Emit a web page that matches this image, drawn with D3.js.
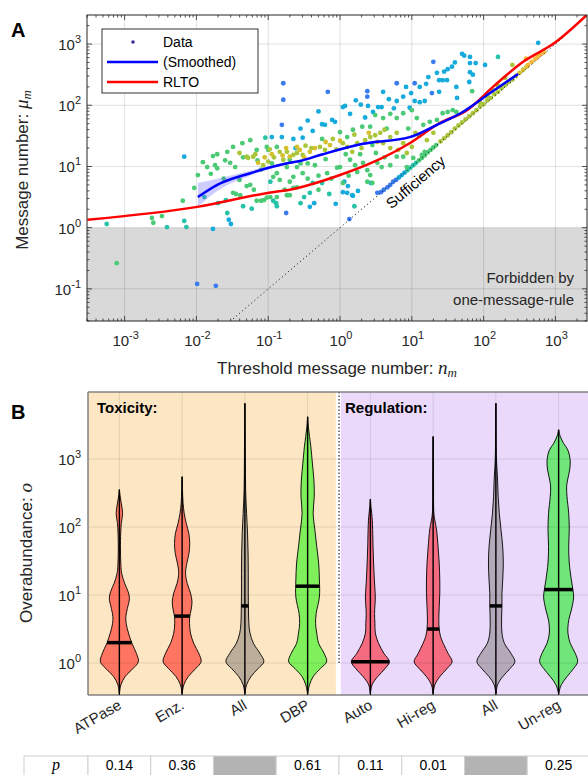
<!DOCTYPE html>
<style>body { margin: 0; } svg { display: block; }</style>
<svg width="588" height="775" font-family="'Liberation Sans', Arial, sans-serif" style="background-color: white"></svg>
<script src="https://d3js.org/d3.v7.min.js"></script>
<script>

var svg = d3.select("svg");

// ---------- panel A: points are [log10 n_m, log10 mu_m]
var bluePts = [[-1.99,-0.92],[-1.73,-0.95],[-0.79,2.36],[-0.79,2.09],[-0.81,1.68],[-0.75,0.24],[-0.17,2.22],
  [0.38,2.23],[0.38,2.14],[0.79,2.36],[1.30,2.71],[1.04,2.36],[1.28,2.20],[0.13,0.14],[0.52,0.57],[0.57,0.58],
  [0.61,0.62],[0.66,0.66],[0.70,0.70],[0.74,0.75],[0.78,0.78]];
var cyanPts = [[-2.17,1.16],[-1.77,-0.02],[-1.55,0.13],[-1.52,0.06],[-0.81,1.48],[-0.95,1.48],[-0.65,1.45],
  [-0.42,0.34],[-0.36,0.40],[-0.06,0.39],[0.06,0.75],[0.11,0.68],[0.17,0.53],[0.43,0.73],[0.10,0.57],[0.18,0.52],
  [0.04,0.58],[0.04,1.97],[0.07,1.99],[-0.11,1.76],[-0.21,1.68],[-0.25,1.69],[-0.07,1.73],[-0.38,1.58],[-0.52,1.47],
  [0.99,2.20],[1.11,2.30],[1.38,2.22],[1.04,2.07],[1.11,2.05],[1.18,2.07],[0.97,1.96],[0.88,2.14],[0.79,2.07],
  [0.68,2.10],[0.58,1.97],[0.53,1.97],[0.46,1.89],[0.39,1.99],[0.29,2.01],[0.14,1.86],[1.70,2.84],[1.73,2.81],
  [1.81,2.79],[1.81,2.69],[1.89,2.69],[2.02,2.66],[1.56,2.63],[1.50,2.59],[1.35,2.53],[1.23,2.46],[1.38,2.41],
  [1.43,2.41],[1.49,2.41],[1.81,2.54],[1.85,2.50],[1.80,2.38],[1.62,2.30],[1.63,2.12],[2.76,3.02],[0.82,0.82],
  [0.86,0.86],[0.90,0.90],[-0.55,1.62],[-0.45,1.75],[-0.30,1.90],[0.22,2.08],[0.60,2.22],[0.92,2.30],[1.20,2.35],
  [1.45,2.55],[1.60,2.70],[0.35,1.80],[0.75,1.95],[-0.62,1.30],[0.25,0.60]];
var tealPts = [[-3.25,0.06],[-2.41,0.01],[-2.17,0.11],[-2.14,0.01],[-1.89,0.50],[-1.57,0.24],[-1.59,0.45],
  [-1.23,0.31],[-0.93,0.44],[-0.89,0.40],[-0.88,0.35],[-0.97,0.75],[-0.50,0.50],[-0.25,0.73],[-1.04,1.47],
  [2.20,2.79],[-0.38,0.73],[-0.42,0.57],[0.94,0.94],[0.98,0.98],[1.02,1.02],[1.06,1.06],[-1.70,0.40],
  [-1.35,0.35],[-0.55,0.40],[-0.15,0.55],[0.20,0.35]];
var greenPts = [[-3.11,-0.58],[-2.62,0.16],[-2.60,0.08],[-2.48,0.19],[-2.19,0.44],[-2.03,0.65],[-1.45,0.55],
  [-1.16,0.44],[-1.10,0.44],[-1.06,0.45],[-0.97,0.50],[-0.77,0.62],[-0.74,0.53],[-1.91,1.07],[-1.77,1.17],
  [-1.71,1.20],[-1.57,1.24],[-1.49,1.32],[-1.36,1.38],[-1.25,1.43],[-1.98,0.86],[-1.85,0.99],[-1.74,1.02],
  [-1.71,0.97],[-1.53,1.06],[-1.46,0.99],[-1.16,1.27],[-1.02,1.32],[-1.00,1.27],[-0.88,1.32],[-0.74,0.99],
  [-0.88,0.89],[-0.93,0.83],[-0.84,0.78],[-0.70,0.75],[-0.65,0.83],[-1.49,0.57],[-1.39,0.53],[-1.02,0.49],
  [-0.88,0.50],[-0.70,0.53],[0.00,1.56],[0.18,1.60],[0.31,1.65],[0.42,1.65],[0.49,1.84],[0.60,1.79],[0.70,1.86],
  [0.79,1.79],[0.88,1.87],[1.00,1.92],[1.07,1.79],[1.16,1.68],[1.25,1.73],[1.35,1.76],[1.43,1.87],[1.50,1.89],
  [1.57,1.92],[1.62,1.89],[1.84,2.23],[-0.70,1.11],[-0.60,0.99],[-0.52,0.89],[-0.35,1.02],[-0.04,0.98],
  [0.00,0.99],[0.14,1.11],[0.21,1.02],[0.32,1.06],[0.24,0.91],[0.38,0.94],[0.42,0.86],[0.52,1.06],[0.58,0.99],
  [0.70,1.02],[0.79,1.16],[0.88,1.16],[1.02,1.14],[1.14,1.19],[1.18,1.24],[0.93,0.99],[0.38,0.75],[0.45,0.73],
  [0.04,0.73],[-0.18,0.89],[1.10,1.10],[1.14,1.14],[1.18,1.18],[1.22,1.23],[1.26,1.27],[1.30,1.31],[1.34,1.35],
  [-1.62,0.80],[-1.40,0.78],[-1.30,0.68],[-1.20,0.62],[-0.60,0.66],[-0.30,0.62],[-0.12,0.80],[0.12,0.85],
  [0.28,1.20],[0.50,1.22],[0.62,1.15],[-0.45,1.05],[-1.10,0.95],[-0.25,1.45],[0.10,1.48],[-1.80,0.88],
  [-1.60,1.10],[-1.35,1.15],[-1.15,1.10],[-0.95,1.05],[-0.55,1.05],[-0.45,0.80],[-0.20,1.12],[0.08,1.20],
  [0.45,1.35],[0.65,1.62],[0.95,1.62],[1.10,1.50],[-1.25,0.70],[-0.65,0.65],[-0.30,0.85]];
var olivePts = [[-1.30,1.16],[-1.28,1.14],[-1.21,1.16],[-1.07,1.02],[-0.84,1.24],[-0.74,1.24],[-0.65,1.19],
  [-0.79,1.11],[-0.52,1.19],[-0.28,1.32],[-0.21,1.27],[0.04,1.38],[0.10,1.32],[0.17,1.24],[0.24,1.38],[0.35,1.43],
  [0.42,1.48],[0.49,1.51],[0.56,1.55],[0.70,1.48],[0.79,1.55],[0.60,1.38],[0.70,1.30],[0.81,1.27],[0.88,1.38],
  [0.93,1.22],[1.00,1.32],[1.21,1.43],[2.40,2.66],[1.40,1.41],[1.45,1.46],[1.50,1.51],[1.55,1.56],[1.60,1.62],
  [1.65,1.67],[1.70,1.72],[1.75,1.77],[1.80,1.82],[1.85,1.87],[1.90,1.92],[1.95,1.98],[2.00,2.02],[2.05,2.08],
  [2.10,2.12],[2.15,2.18],[2.20,2.22],[2.25,2.28],[2.30,2.33],[2.35,2.38],[2.40,2.42],[1.95,2.05],[2.05,2.15],
  [2.12,2.25],[2.20,2.32],[2.30,2.45],[-1.00,1.08],[-0.92,1.15],[-0.40,1.30],[-0.05,1.28],[0.30,1.30],
  [-1.40,1.22],[-1.18,1.20],[-0.98,1.28],[-0.60,1.22],[-0.48,1.34],[-0.10,1.45],[0.20,1.52],[0.62,1.60],
  [1.05,1.55],[1.30,1.55]];
var yellowPts = [[-1.14,1.06],[-0.70,1.16],[-0.60,1.32],[-0.42,1.24],[-0.14,1.35],[0.52,1.40],[-0.56,1.27],
  [-0.35,1.30],[2.45,2.48],[2.50,2.53],[2.55,2.58],[2.60,2.63],[-0.95,1.20],[-0.80,1.18],[-0.20,1.40],
  [-1.05,1.15],[-0.75,1.30],[-0.50,1.15],[0.00,1.42],[0.40,1.55]];
var orangePts = [[2.59,2.76],[2.62,2.66],[2.67,2.71],[2.72,2.76],[2.76,2.80],[2.80,2.84],[2.84,2.87]];

var smoothed = [[-1.98,0.50],[-1.71,0.70],[-1.25,0.89],[-0.70,1.06],[-0.56,1.09],[-0.24,1.20],[0.32,1.37],
  [0.97,1.48],[1.35,1.68],[1.71,1.89],[2.09,2.20],[2.48,2.51]];
var smoothedLow  = [0.34,0.60,0.85,1.04,1.07,1.18,1.35,1.46,1.66,1.87,2.18,2.49];
var smoothedHigh = [0.73,0.80,0.93,1.08,1.11,1.22,1.39,1.50,1.70,1.91,2.22,2.53];
var rlto = [[-3.52,0.13],[-1.99,0.34],[-0.99,0.57],[-0.70,0.62],[0.00,0.86],[0.46,1.07],[0.97,1.38],
  [1.39,1.71],[1.77,1.92],[2.13,2.30],[2.55,2.71],[2.99,3.02],[3.44,3.48]];
var sufficiency = [[-1.53,-1.53],[3.10,3.10]];

// ---------- panel B
var categories = ["ATPase", "Enz.", "All", "DBP", "Auto", "Hi-reg", "All", "Un-reg"];
var medians = [0.30, 0.69, 0.84, 1.13, 0.02, 0.50, 0.84, 1.08];   // log10 o
var pValues = ["0.14", "0.36", "", "0.61", "0.11", "0.01", "", "0.25"];
// violin outlines: [log10 o, relative half width]
var atpase = [[-0.45,0],[-0.32,0.08],[-0.20,0.30],[-0.08,0.72],[0.02,1.0],[0.14,0.90],[0.29,0.66],[0.44,0.48],
  [0.58,0.36],[0.68,0.34],[0.80,0.42],[0.95,0.53],[1.05,0.46],[1.17,0.28],[1.32,0.12],[1.50,0.07],[1.80,0.06],
  [2.05,0.10],[2.20,0.17],[2.35,0.10],[2.47,0.03],[2.55,0]];
var enz = [[-0.45,0],[-0.32,0.09],[-0.20,0.32],[-0.08,0.72],[0.02,1.0],[0.14,0.88],[0.29,0.61],[0.44,0.44],
  [0.58,0.39],[0.68,0.40],[0.78,0.47],[0.90,0.52],[1.03,0.44],[1.17,0.27],[1.32,0.18],[1.47,0.25],[1.61,0.36],
  [1.76,0.40],[1.91,0.35],[2.05,0.22],[2.20,0.11],[2.35,0.05],[2.55,0.02],[2.74,0]];
var toxAll = [[-0.45,0],[-0.32,0.09],[-0.20,0.32],[-0.08,0.70],[0.02,1.0],[0.14,0.80],[0.29,0.45],[0.44,0.27],
  [0.58,0.21],[0.78,0.19],[1.03,0.18],[1.32,0.18],[1.61,0.17],[1.91,0.14],[2.20,0.09],[2.54,0.04],[2.94,0.025],
  [3.40,0.015],[3.82,0]];
var dbp = [[-0.45,0],[-0.32,0.10],[-0.20,0.29],[-0.08,0.67],[0.02,1.0],[0.14,0.87],[0.29,0.58],[0.44,0.48],
  [0.58,0.42],[0.73,0.45],[0.97,0.62],[1.22,0.62],[1.47,0.58],[1.71,0.48],[1.96,0.38],[2.20,0.29],[2.45,0.35],
  [2.69,0.33],[2.94,0.25],[3.18,0.17],[3.33,0.10],[3.47,0.04],[3.62,0]];
var auto = [[-0.45,0],[-0.32,0.09],[-0.20,0.38],[-0.08,0.78],[0.02,1.0],[0.14,0.72],[0.29,0.43],[0.44,0.26],
  [0.58,0.24],[0.73,0.22],[0.97,0.26],[1.22,0.21],[1.47,0.17],[1.71,0.14],[1.96,0.12],[2.10,0.10],[2.20,0.07],
  [2.30,0.03],[2.41,0]];
var hiReg = [[-0.45,0],[-0.32,0.09],[-0.20,0.35],[-0.08,0.74],[0.02,1.0],[0.14,0.79],[0.29,0.53],[0.39,0.39],
  [0.50,0.32],[0.63,0.30],[0.82,0.32],[1.02,0.35],[1.22,0.35],[1.47,0.32],[1.71,0.26],[1.96,0.18],[2.10,0.09],
  [2.20,0.04],[2.69,0.02],[3.33,0]];
var regAll = [[-0.45,0],[-0.32,0.09],[-0.20,0.36],[-0.08,0.75],[0.02,1.0],[0.14,0.80],[0.29,0.45],[0.44,0.32],
  [0.63,0.30],[0.84,0.32],[1.02,0.32],[1.22,0.36],[1.47,0.39],[1.71,0.36],[1.96,0.27],[2.20,0.18],[2.45,0.12],
  [2.69,0.09],[2.94,0.04],[3.18,0.02],[3.82,0]];
var unReg = [[-0.45,0],[-0.32,0.14],[-0.20,0.44],[-0.08,0.79],[0.02,1.0],[0.14,0.88],[0.29,0.61],[0.44,0.49],
  [0.63,0.53],[0.78,0.67],[0.97,0.79],[1.08,0.75],[1.22,0.67],[1.47,0.56],[1.71,0.53],[1.96,0.56],[2.20,0.53],
  [2.45,0.44],[2.59,0.42],[2.69,0.47],[2.84,0.58],[2.98,0.61],[3.13,0.49],[3.23,0.26],[3.33,0.09],[3.43,0]];
var profiles = [atpase, enz, toxAll, dbp, auto, hiReg, regAll, unReg];

var violinFill = ["#ff7561", "#ff7561", "#bdae9b", "#7ff05c", "#f56b80", "#f56b80", "#b4a9b9", "#70e67a"];
var groupFill = [[bluePts, "#3a7cf0"], [cyanPts, "#17abdc"], [tealPts, "#26c3a8"], [greenPts, "#4cca76"],
  [olivePts, "#a9c63a"], [yellowPts, "#d6bf2c"], [orangePts, "#f6b93a"]];

var p10 = function(v) { return Math.pow(10, v); };
var ink = "#262626";

// =================== panel A ===================
var x = d3.scaleLog().domain([p10(-3.524), p10(3.44)]).range([87, 587]),
    y = d3.scaleLog().domain([p10(-1.525), p10(3.475)]).range([321, 15]);
var L = 87, R = 587, T = 15, B = 321;

svg.append("clipPath").attr("id", "clipA").append("rect")
    .attr("x", L).attr("y", T).attr("width", R - L).attr("height", B - T);
var gA = svg.append("g").attr("clip-path", "url(#clipA)");

gA.append("rect").attr("x", L).attr("y", y(1)).attr("width", R - L).attr("height", B - y(1))
    .attr("fill", "#d9d9d9");

var xDec = d3.range(-3, 4), yDec = d3.range(-1, 4);
gA.selectAll(".gx").data(xDec).enter().append("line")
    .attr("x1", function(d) { return x(p10(d)); }).attr("x2", function(d) { return x(p10(d)); })
    .attr("y1", T).attr("y2", B).attr("stroke", "#000").attr("stroke-opacity", 0.12);
gA.selectAll(".gy").data(yDec).enter().append("line")
    .attr("y1", function(d) { return y(p10(d)); }).attr("y2", function(d) { return y(p10(d)); })
    .attr("x1", L).attr("x2", R).attr("stroke", "#000").attr("stroke-opacity", 0.12);

groupFill.forEach(function(g) {
  gA.append("g").selectAll("circle").data(g[0]).enter().append("circle")
      .attr("cx", function(d) { return x(p10(d[0])); })
      .attr("cy", function(d) { return y(p10(d[1])); })
      .attr("r", 2.4).attr("fill", g[1]);
});

var band = d3.area().curve(d3.curveMonotoneX)
    .x(function(d) { return x(p10(d[0])); })
    .y0(function(d, i) { return y(p10(smoothedLow[i])); })
    .y1(function(d, i) { return y(p10(smoothedHigh[i])); });
gA.append("path").datum(smoothed).attr("d", band).attr("fill", "rgb(90,90,255)").attr("fill-opacity", 0.3);

var line = d3.line().curve(d3.curveMonotoneX)
    .x(function(d) { return x(p10(d[0])); }).y(function(d) { return y(p10(d[1])); });
gA.append("path").datum(sufficiency).attr("d", line).attr("stroke", "#000").attr("stroke-width", 1)
    .attr("stroke-dasharray", "1,3").attr("fill", "none");
gA.append("path").datum(rlto).attr("d", line).attr("stroke", "#ff0000").attr("stroke-width", 2.5).attr("fill", "none");
gA.append("path").datum(smoothed).attr("d", line).attr("stroke", "#0000ff").attr("stroke-width", 2.5).attr("fill", "none");

// frame and ticks
svg.append("rect").attr("x", L).attr("y", T).attr("width", R - L).attr("height", B - T)
    .attr("fill", "none").attr("stroke", ink).attr("stroke-width", 1);
function minors(lo, hi) {
  var out = [];
  for (var e = Math.floor(lo); e <= hi; e++) for (var k = 2; k < 10; k++) {
    var v = Math.log10(k) + e;
    if (v > lo && v < hi) out.push(v);
  }
  return out;
}
var tA = svg.append("g").attr("stroke", ink).attr("stroke-width", 0.8);
[[xDec, 5], [minors(-3.524, 3.44), 2.5]].forEach(function(s) {
  s[0].forEach(function(v) {
    var px = x(p10(v));
    tA.append("line").attr("x1", px).attr("x2", px).attr("y1", B).attr("y2", B - s[1]);
    tA.append("line").attr("x1", px).attr("x2", px).attr("y1", T).attr("y2", T + s[1]);
  });
});
[[yDec, 5], [minors(-1.525, 3.475), 2.5]].forEach(function(s) {
  s[0].forEach(function(v) {
    var py = y(p10(v));
    tA.append("line").attr("y1", py).attr("y2", py).attr("x1", L).attr("x2", L + s[1]);
    tA.append("line").attr("y1", py).attr("y2", py).attr("x1", R).attr("x2", R - s[1]);
  });
});

function powLabel(g, e) {
  g.append("tspan").text("10");
  g.append("tspan").attr("dy", -7).attr("font-size", 11).text(e);
}
xDec.forEach(function(d) {
  svg.append("text").attr("x", x(p10(d)) + 1).attr("y", 346).attr("text-anchor", "middle")
      .attr("font-size", 15).attr("fill", ink).call(powLabel, d);
});
yDec.forEach(function(d) {
  svg.append("text").attr("x", 81).attr("y", y(p10(d)) + 6).attr("text-anchor", "end")
      .attr("font-size", 15).attr("fill", ink).call(powLabel, d);
});

var xl = svg.append("text").attr("x", 337).attr("y", 374).attr("text-anchor", "middle")
    .attr("font-size", 17).attr("fill", ink);
xl.append("tspan").text("Threshold message number: ");
xl.append("tspan").attr("font-family", "'Liberation Serif', serif").attr("font-style", "italic").attr("font-size", 19).text("n");
xl.append("tspan").attr("font-family", "'Liberation Serif', serif").attr("font-style", "italic").attr("font-size", 13).attr("dy", 3).text("m");

var yl = svg.append("text").attr("transform", "translate(28,170) rotate(-90)").attr("text-anchor", "middle")
    .attr("font-size", 17).attr("fill", ink);
yl.append("tspan").text("Message number: ");
yl.append("tspan").attr("font-family", "'Liberation Serif', serif").attr("font-style", "italic").attr("font-size", 19).text("μ");
yl.append("tspan").attr("font-family", "'Liberation Serif', serif").attr("font-style", "italic").attr("font-size", 13).attr("dy", 3).text("m");

svg.append("text").attr("transform", "translate(419,186) rotate(-40.4)").attr("text-anchor", "middle")
    .attr("font-size", 15).attr("fill", "#000").text("Sufficiency");
svg.append("text").attr("x", 574).attr("y", 283).attr("text-anchor", "end").attr("font-size", 15)
    .attr("fill", ink).text("Forbidden by");
svg.append("text").attr("x", 574).attr("y", 305).attr("text-anchor", "end").attr("font-size", 15)
    .attr("fill", ink).text("one-message-rule");

// legend
var lg = svg.append("g");
lg.append("rect").attr("x", 102).attr("y", 29).attr("width", 156).attr("height", 64)
    .attr("fill", "#fff").attr("stroke", "#000").attr("stroke-width", 0.8);
lg.append("circle").attr("cx", 133).attr("cy", 42).attr("r", 1.8).attr("fill", "#3a2c98");
lg.append("line").attr("x1", 107).attr("x2", 158).attr("y1", 62).attr("y2", 62).attr("stroke", "#0000ff").attr("stroke-width", 2.5);
lg.append("line").attr("x1", 107).attr("x2", 158).attr("y1", 82).attr("y2", 82).attr("stroke", "#ff0000").attr("stroke-width", 2.5);
["Data", "(Smoothed)", "RLTO"].forEach(function(t, i) {
  lg.append("text").attr("x", 163).attr("y", 47 + 20 * i).attr("font-size", 14).attr("fill", "#000").text(t);
});

svg.append("text").attr("x", 11).attr("y", 37).attr("font-size", 20).attr("font-weight", "bold").text("A");
svg.append("text").attr("x", 11).attr("y", 419).attr("font-size", 20).attr("font-weight", "bold").text("B");

// =================== panel B ===================
var xb = d3.scaleLinear().domain([0.5, 8.5]).range([88, 590]),
    yb = d3.scaleLog().domain([p10(-0.47), p10(3.985)]).range([695, 392]);
var BT = 392, BB = 695, BL = 88, BR = 590;
var halfW = 19;

svg.append("rect").attr("x", BL).attr("y", BT).attr("width", xb(4.45) - BL).attr("height", BB - BT).attr("fill", "#fde6c4");
svg.append("rect").attr("x", xb(4.53)).attr("y", BT).attr("width", BR - xb(4.53)).attr("height", BB - BT).attr("fill", "#ead9fb");
svg.append("line").attr("x1", xb(4.5)).attr("x2", xb(4.5)).attr("y1", BT).attr("y2", yb(1))
    .attr("stroke", "#000").attr("stroke-width", 1).attr("stroke-dasharray", "1.5,2");

profiles.forEach(function(prof, i) {
  var cx = xb(i + 1);
  var area = d3.area().curve(d3.curveCatmullRom)
      .y(function(d) { return yb(p10(d[0])); })
      .x0(function(d) { return cx - d[1] * halfW; })
      .x1(function(d) { return cx + d[1] * halfW; });
  svg.append("path").datum(prof).attr("d", area).attr("fill", violinFill[i])
      .attr("stroke", "#000").attr("stroke-width", 0.9);
  svg.append("line").attr("x1", cx).attr("x2", cx)
      .attr("y1", yb(p10(prof[0][0]))).attr("y2", yb(p10(prof[prof.length - 1][0])))
      .attr("stroke", "#000").attr("stroke-width", 1.4);
  // width at median
  var m = medians[i], w = 0;
  for (var k = 0; k < prof.length - 1; k++) {
    if (m >= prof[k][0] && m <= prof[k + 1][0]) {
      w = prof[k][1] + (prof[k + 1][1] - prof[k][1]) * (m - prof[k][0]) / (prof[k + 1][0] - prof[k][0]);
    }
  }
  svg.append("line").attr("x1", cx - w * halfW).attr("x2", cx + w * halfW)
      .attr("y1", yb(p10(m))).attr("y2", yb(p10(m))).attr("stroke", "#000").attr("stroke-width", 3.5);
});

// grid over violins
var gB = svg.append("g").attr("stroke", "#000").attr("stroke-opacity", 0.1).attr("stroke-width", 1);
d3.range(0, 4).forEach(function(d) {
  gB.append("line").attr("x1", BL).attr("x2", BR).attr("y1", yb(p10(d))).attr("y2", yb(p10(d)));
});
categories.forEach(function(c, i) {
  gB.append("line").attr("x1", xb(i + 1)).attr("x2", xb(i + 1)).attr("y1", BT).attr("y2", BB);
});

// frame
var fr = svg.append("g").attr("stroke", "#808080").attr("stroke-width", 1.5);
fr.append("line").attr("x1", BL).attr("x2", BR).attr("y1", BT).attr("y2", BT);
fr.append("line").attr("x1", BL).attr("x2", BR).attr("y1", BB).attr("y2", BB);
fr.append("line").attr("x1", BL).attr("x2", BL).attr("y1", BT).attr("y2", BB);
categories.forEach(function(c, i) {
  svg.append("line").attr("x1", xb(i + 1)).attr("x2", xb(i + 1)).attr("y1", BB).attr("y2", BB - 5)
      .attr("stroke", "#000").attr("stroke-width", 1);
  svg.append("text").attr("transform", "translate(" + (xb(i + 1) + 3) + ",708) rotate(-30)")
      .attr("text-anchor", "end").attr("font-size", 15).attr("fill", ink).text(c);
});
d3.range(0, 4).forEach(function(d) {
  svg.append("text").attr("x", 81).attr("y", yb(p10(d)) + 6).attr("text-anchor", "end")
      .attr("font-size", 15).attr("fill", ink).call(powLabel, d);
});
var ylb = svg.append("text").attr("transform", "translate(32,553) rotate(-90)").attr("text-anchor", "middle")
    .attr("font-size", 17).attr("fill", ink);
ylb.append("tspan").text("Overabundance: ");
ylb.append("tspan").attr("font-family", "'Liberation Serif', serif").attr("font-style", "italic").attr("font-size", 19).text("o");

svg.append("text").attr("x", 97).attr("y", 413).attr("font-size", 15).attr("font-weight", "bold").text("Toxicity:");
svg.append("text").attr("x", 345).attr("y", 413).attr("font-size", 15).attr("font-weight", "bold").text("Regulation:");

// p-value row
var tb = svg.append("g");
tb.append("rect").attr("x", 24).attr("y", 756).attr("width", BL - 24).attr("height", 24)
    .attr("fill", "#fff").attr("stroke", "#cfcfcf");
tb.append("text").attr("x", 56).attr("y", 770).attr("text-anchor", "middle").attr("font-family", "'Liberation Serif', serif")
    .attr("font-style", "italic").attr("font-size", 16).text("p");
pValues.forEach(function(p, i) {
  tb.append("rect").attr("x", xb(i + 0.5)).attr("y", 756).attr("width", xb(i + 1.5) - xb(i + 0.5)).attr("height", 24)
      .attr("fill", p === "" ? "#b3b3b3" : "#fff").attr("stroke", "#cfcfcf");
  tb.append("text").attr("x", xb(i + 1)).attr("y", 770).attr("text-anchor", "middle")
      .attr("font-size", 14).attr("fill", "#000").text(p);
});

</script>
